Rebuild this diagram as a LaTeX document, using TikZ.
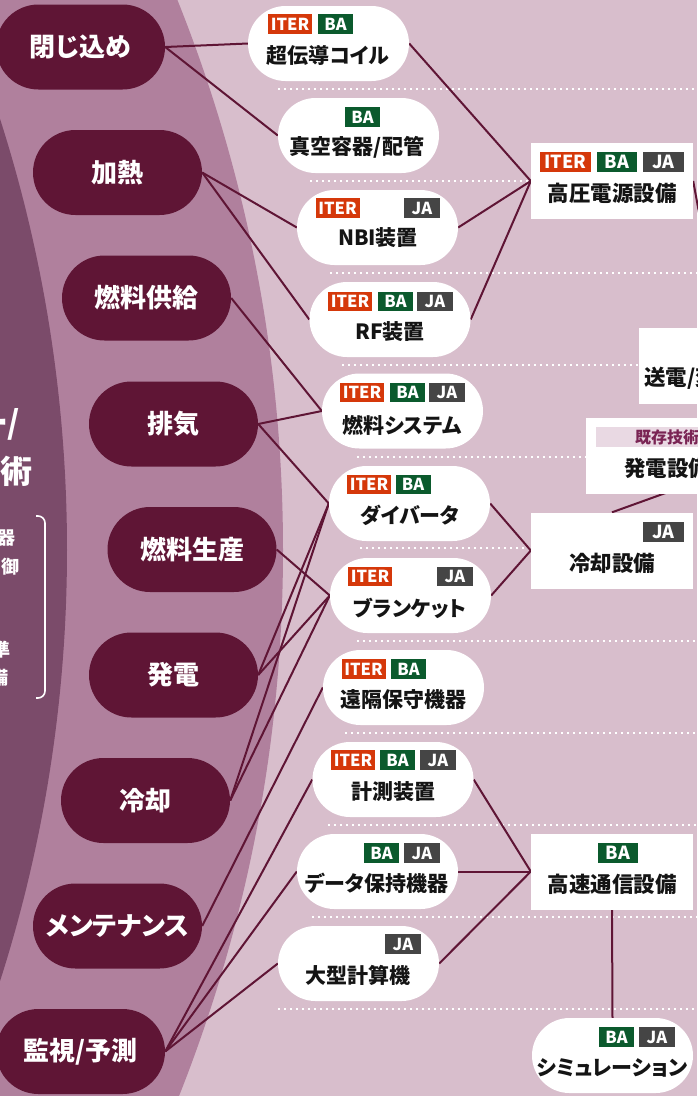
\documentclass[tikz,border=0pt]{standalone}
\usepackage{fontspec}
\newfontfamily\jp[RawFeature=+palt]{Noto Sans CJK JP}
\usetikzlibrary{calc}
\definecolor{bglight}{HTML}{D8BECC}
\definecolor{bgmid}{HTML}{B0809D}
\definecolor{bgdark}{HTML}{7B4B6A}
\definecolor{dk}{HTML}{5F1535}
\definecolor{iterc}{HTML}{D5380A}
\definecolor{bac}{HTML}{0B5A2D}
\definecolor{jac}{HTML}{454545}
\definecolor{kzband}{HTML}{E9D9E3}
\definecolor{kztext}{HTML}{7A2454}
\pgfdeclarelayer{bg}
\pgfdeclarelayer{lines}
\pgfsetlayers{bg,lines,main}
\tikzset{
 lpill/.style={rectangle, fill=dk, rounded corners=42.5pt, minimum width=169pt, minimum height=85pt, inner sep=0pt, text=white, font=\jp\bfseries\fontsize{26}{30}\selectfont},
 mpill/.style={rectangle, fill=white, rounded corners=37.5pt, minimum width=161pt, minimum height=75pt, inner sep=0pt},
 rbox/.style={rectangle, fill=white, minimum width=162pt, minimum height=76pt, inner sep=0pt},
 mtext/.style={font=\jp\bfseries\fontsize{21}{24}\selectfont, text=black!92, inner sep=0pt},
 rtext/.style={font=\jp\bfseries\fontsize{21.5}{24}\selectfont, text=black!92, inner sep=0pt},
 tagbase/.style={text=white, inner sep=0pt, minimum height=19.5pt, font=\jp\bfseries\fontsize{16.5}{16.5}\selectfont},
 titer/.style={tagbase, fill=iterc, minimum width=44pt},
 tba/.style={tagbase, fill=bac, minimum width=35pt},
 tja/.style={tagbase, fill=jac, minimum width=36pt},
 rtagbase/.style={text=white, inner sep=0pt, minimum height=20pt, font=\jp\bfseries\fontsize{18}{18}\selectfont},
 riter/.style={rtagbase, fill=iterc, minimum width=51pt},
 rba/.style={rtagbase, fill=bac, minimum width=40pt},
 rja/.style={rtagbase, fill=jac, minimum width=41pt},
 bigw/.style={text=white, inner sep=0pt, font=\jp\bfseries\fontsize{32}{34}\selectfont},
 smallw/.style={text=white, inner sep=0pt, font=\jp\bfseries\fontsize{18}{20}\selectfont},
 conn/.style={draw=dk, line width=2pt},
 dotline/.style={draw=white, line width=2.2pt, dash pattern=on 2.2pt off 3.8pt},
}
\begin{document}
\begin{tikzpicture}[x=1pt,y=-1pt]
\useasboundingbox (0,0) rectangle (697,1096);
\begin{pgfonlayer}{bg}
\fill[bglight] (0,0) rectangle (697,1096);
\begin{scope}
\clip (0,0) rectangle (697,1096);
\fill[bgmid] (-1197,550) circle[radius=1480pt];
\fill[bgdark] (-1346,550) circle[radius=1413pt];
\end{scope}
\end{pgfonlayer}

% left header texts (cut at the left edge)
\node[bigw, anchor=east] (h1) at (20,424) {ー/};
\node[bigw, anchor=east] (h2) at (33,471) {技術};
\node[smallw, anchor=east] (s1) at (16,538) {器};
\node[smallw, anchor=east] (s2) at (20,567) {御};
\node[smallw, anchor=east] (s3) at (11,650) {準};
\node[smallw, anchor=east] (s4) at (9,678) {備};
\draw[white, line width=1.6pt, rounded corners=7pt] (36,516) -- (45,516) -- (45,698) -- (36,698);

% functions
\node[lpill] (c1) at (80.5,47) {閉じ込め};
\node[lpill] (c2) at (117.5,172.5) {加熱};
\node[lpill] (c3) at (146.5,298) {燃料供給};
\node[lpill] (c4) at (173.5,424) {排気};
\node[lpill] (c5) at (192,549.5) {燃料生産};
\node[lpill] (c6) at (173.5,675) {発電};
\node[lpill] (c7) at (145.5,800.5) {冷却};
\node[lpill] (c8) at (117.5,926) {メンテナンス};
\node[lpill] (c9) at (80.5,1051.5) {監視/予測};

% devices
\node[mpill] (m1) at (328.5,43.5) {};
\node[titer] (m1i) at (290,24) {ITER};
\node[tba] (m1b) at (335.5,24) {BA};
\node[mtext] (m1t) at (328,55) {超伝導コイル};

\node[mpill] (m2) at (358.5,135.5) {};
\node[tba] (m2b) at (362.5,117) {BA};
\node[mtext] (m2t) at (357,147) {真空容器/配管};

\node[mpill] (m3) at (377.5,227.5) {};
\node[titer] (m3i) at (337.5,208) {ITER};
\node[tja] (m3j) at (422,208) {JA};
\node[mtext] (m3t) at (378,238) {NBI装置};

\node[mpill] (m4) at (390,319.5) {};
\node[titer] (m4i) at (350,301.5) {ITER};
\node[tba] (m4b) at (395.5,301.5) {BA};
\node[tja] (m4j) at (435,301.5) {JA};
\node[mtext] (m4t) at (390,332) {RF装置};

\node[mpill] (m5) at (402.5,411) {};
\node[titer] (m5i) at (362,392.5) {ITER};
\node[tba] (m5b) at (407.5,392.5) {BA};
\node[tja] (m5j) at (447,392.5) {JA};
\node[mtext] (m5t) at (402,425) {燃料システム};

\node[mpill] (m6) at (409.5,503.5) {};
\node[titer] (m6i) at (369,484.5) {ITER};
\node[tba] (m6b) at (413,484.5) {BA};
\node[mtext] (m6t) at (410,515) {ダイバータ};

\node[mpill] (m7) at (410.5,595.5) {};
\node[titer] (m7i) at (370,576.5) {ITER};
\node[tja] (m7j) at (455,576.5) {JA};
\node[mtext] (m7t) at (410,608) {ブランケット};

\node[mpill] (m8) at (403.5,687.5) {};
\node[titer] (m8i) at (363.5,669) {ITER};
\node[tba] (m8b) at (408.5,669) {BA};
\node[mtext] (m8t) at (403,700) {遠隔保守機器};

\node[mpill] (m9) at (393,779.5) {};
\node[titer] (m9i) at (353,760) {ITER};
\node[tba] (m9b) at (397.5,760) {BA};
\node[tja] (m9j) at (438,760) {JA};
\node[mtext] (m9t) at (393,792) {計測装置};

\node[mpill] (m10) at (377.5,871.5) {};
\node[tba] (m10b) at (381.5,853) {BA};
\node[tja] (m10j) at (422,853) {JA};
\node[mtext] (m10t) at (377,883) {データ保持機器};

\node[mpill] (m11) at (358.5,963.5) {};
\node[tja] (m11j) at (403,944) {JA};
\node[mtext] (m11t) at (358,975) {大型計算機};

% facilities
\node[rbox] (hv) at (612,181) {};
\node[riter] (hvi) at (565.5,162) {ITER};
\node[rba] (hvb) at (617,162) {BA};
\node[rja] (hvj) at (663.5,162) {JA};
\node[rtext] (hvt) at (612,193) {高圧電源設備};

\node[rbox] (tx) at (720,365.5) {};
\node[rtext, anchor=west] (txt) at (644,378) {送電/変電設備};

\node[rbox] (gen) at (667,455.5) {};
\node[fill=kzband, minimum width=142pt, minimum height=20pt, inner sep=0pt, text=kztext, font=\jp\bfseries\fontsize{16}{16}\selectfont] (kz) at (667,437) {既存技術};
\node[rtext] (gent) at (667,468) {発電設備};

\node[rbox] (cool) at (612,550.5) {};
\node[rja] (coolj) at (663.5,532) {JA};
\node[rtext] (coolt) at (612,563) {冷却設備};

\node[rbox] (com) at (612,871.5) {};
\node[rba] (comb) at (618,853) {BA};
\node[rtext] (comt) at (612,884) {高速通信設備};

\node[mpill] (sim) at (612.5,1055.5) {};
\node[tba] (simb) at (616.5,1037) {BA};
\node[tja] (simj) at (657,1037) {JA};
\node[mtext] (simt) at (612,1068) {シミュレーション};

\coordinate (far1) at (800,444.6);

\begin{pgfonlayer}{lines}
\draw[dotline] (278,89) -- (697,89);
\draw[dotline] (310,181) -- (531,181);
\draw[dotline] (330,273) -- (697,273);
\draw[dotline] (342,365) -- (639,365);
\draw[dotline] (357,457) -- (586,457);
\draw[dotline] (360,548) -- (531,548);
\draw[dotline] (357,641) -- (697,641);
\draw[dotline] (345,733) -- (697,733);
\draw[dotline] (328,825) -- (697,825);
\draw[dotline] (312,917) -- (697,917);
\draw[dotline] (278,1009) -- (697,1009);

\draw[conn] (c1.east) -- (m1.west);
\draw[conn] (c1.east) -- (m2.west);
\draw[conn] (c2.east) -- (m3.west);
\draw[conn] (c2.east) -- (m4.west);
\draw[conn] (c3.east) -- (m5.west);
\draw[conn] (c4.east) -- (m5.west);
\draw[conn] (c4.east) -- (m6.west);
\draw[conn] (c5.east) -- (m7.west);
\draw[conn] (c6.east) -- (m6.west);
\draw[conn] (c6.east) -- (m7.west);
\draw[conn] (c7.east) -- (m6.west);
\draw[conn] (c7.east) -- (m7.west);
\draw[conn] (c8.east) -- (m8.west);
\draw[conn] (c9.east) -- (m9.west);
\draw[conn] (c9.east) -- (m10.west);
\draw[conn] (c9.east) -- (m11.west);

\draw[conn] (m1.east) -- (hv.west);
\draw[conn] (m3.east) -- (hv.west);
\draw[conn] (m4.east) -- (hv.west);
\draw[conn] (m6.east) -- (cool.west);
\draw[conn] (m7.east) -- (cool.west);
\draw[conn] (m9.east) -- (com.west);
\draw[conn] (m10.east) -- (com.west);
\draw[conn] (m11.east) -- (com.west);
\draw[conn] (com.south) -- (sim.north);
\draw[conn] (hv.east) -- (tx.north);
\draw[conn] (cool.north) -- (far1);
\end{pgfonlayer}
\end{tikzpicture}
\end{document}
